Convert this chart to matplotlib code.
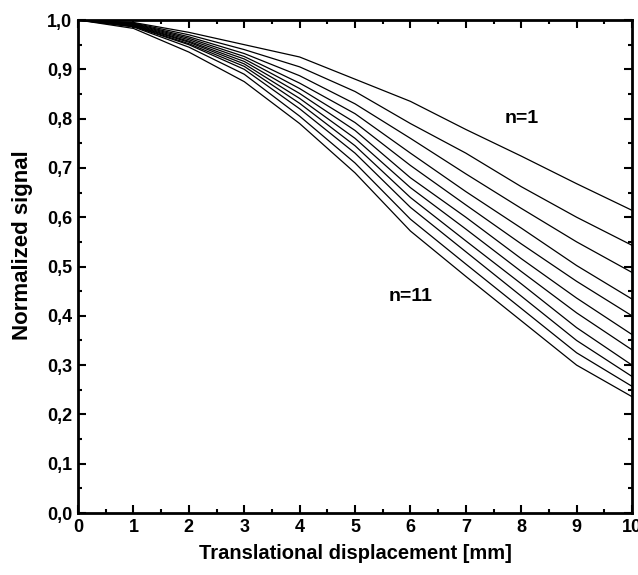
import numpy as np
import matplotlib.pyplot as plt
from matplotlib.ticker import MultipleLocator, FuncFormatter

# displacement in mm
x = [0, 1, 2, 3, 4, 5, 6, 7, 8, 9, 10]

# normalized signal, one list per n (n=1 top ... n=11 bottom)
n1 = [1.0, 0.995, 0.975, 0.950, 0.925, 0.880, 0.835, 0.778, 0.724, 0.668, 0.614]
n2 = [1.0, 0.994, 0.970, 0.940, 0.905, 0.855, 0.790, 0.730, 0.662, 0.600, 0.543]
n3 = [1.0, 0.993, 0.966, 0.932, 0.887, 0.830, 0.760, 0.688, 0.618, 0.550, 0.488]
n4 = [1.0, 0.992, 0.963, 0.926, 0.872, 0.810, 0.730, 0.652, 0.578, 0.502, 0.434]
n5 = [1.0, 0.991, 0.960, 0.921, 0.861, 0.792, 0.705, 0.625, 0.546, 0.470, 0.400]
n6 = [1.0, 0.990, 0.957, 0.916, 0.851, 0.776, 0.680, 0.600, 0.516, 0.436, 0.362]
n7 = [1.0, 0.989, 0.955, 0.911, 0.841, 0.760, 0.660, 0.576, 0.490, 0.406, 0.331]
n8 = [1.0, 0.988, 0.952, 0.906, 0.831, 0.745, 0.640, 0.552, 0.465, 0.376, 0.300]
n9 = [1.0, 0.987, 0.950, 0.900, 0.820, 0.730, 0.620, 0.530, 0.440, 0.350, 0.277]
n10 = [1.0, 0.986, 0.945, 0.890, 0.805, 0.710, 0.596, 0.505, 0.415, 0.325, 0.257]
n11 = [1.0, 0.983, 0.935, 0.875, 0.790, 0.690, 0.572, 0.480, 0.390, 0.300, 0.236]

curves = [n1, n2, n3, n4, n5, n6, n7, n8, n9, n10, n11]

plt.rcParams['font.family'] = ['Liberation Sans', 'DejaVu Sans']
plt.rcParams['font.weight'] = 'bold'

fig = plt.figure(figsize=(6.38, 5.75), dpi=100)
ax = fig.add_axes([0.1223, 0.1078, 0.8683, 0.8574])

for y in curves:
    ax.plot(x, y, color='black', lw=0.9)

ax.set_xlim(0, 10)
ax.set_ylim(0, 1.0)

ax.xaxis.set_major_locator(MultipleLocator(1))
ax.xaxis.set_minor_locator(MultipleLocator(0.5))
ax.yaxis.set_major_locator(MultipleLocator(0.1))
ax.yaxis.set_minor_locator(MultipleLocator(0.05))
ax.yaxis.set_major_formatter(FuncFormatter(lambda v, p: ('%.1f' % v).replace('.', ',')))

ax.tick_params(which='both', direction='in', top=True, right=True, width=1.5)
ax.tick_params(which='major', length=6, labelsize=13, pad=4)
ax.tick_params(which='minor', length=3)
for lab in ax.get_xticklabels() + ax.get_yticklabels():
    lab.set_fontweight('bold')

for sp in ax.spines.values():
    sp.set_linewidth(2)

ax.set_xlabel('Translational displacement [mm]', fontsize=14.5, fontweight='bold', labelpad=6)
ax.set_ylabel('Normalized signal', fontsize=16, fontweight='bold')
ax.yaxis.set_label_coords(-0.081, 0.544)

ax.text(8.0, 0.80, 'n=1', fontsize=14, fontweight='bold', ha='center', va='center')
ax.text(6.0, 0.44, 'n=11', fontsize=14, fontweight='bold', ha='center', va='center')

fig.savefig('out.png', dpi=100)
